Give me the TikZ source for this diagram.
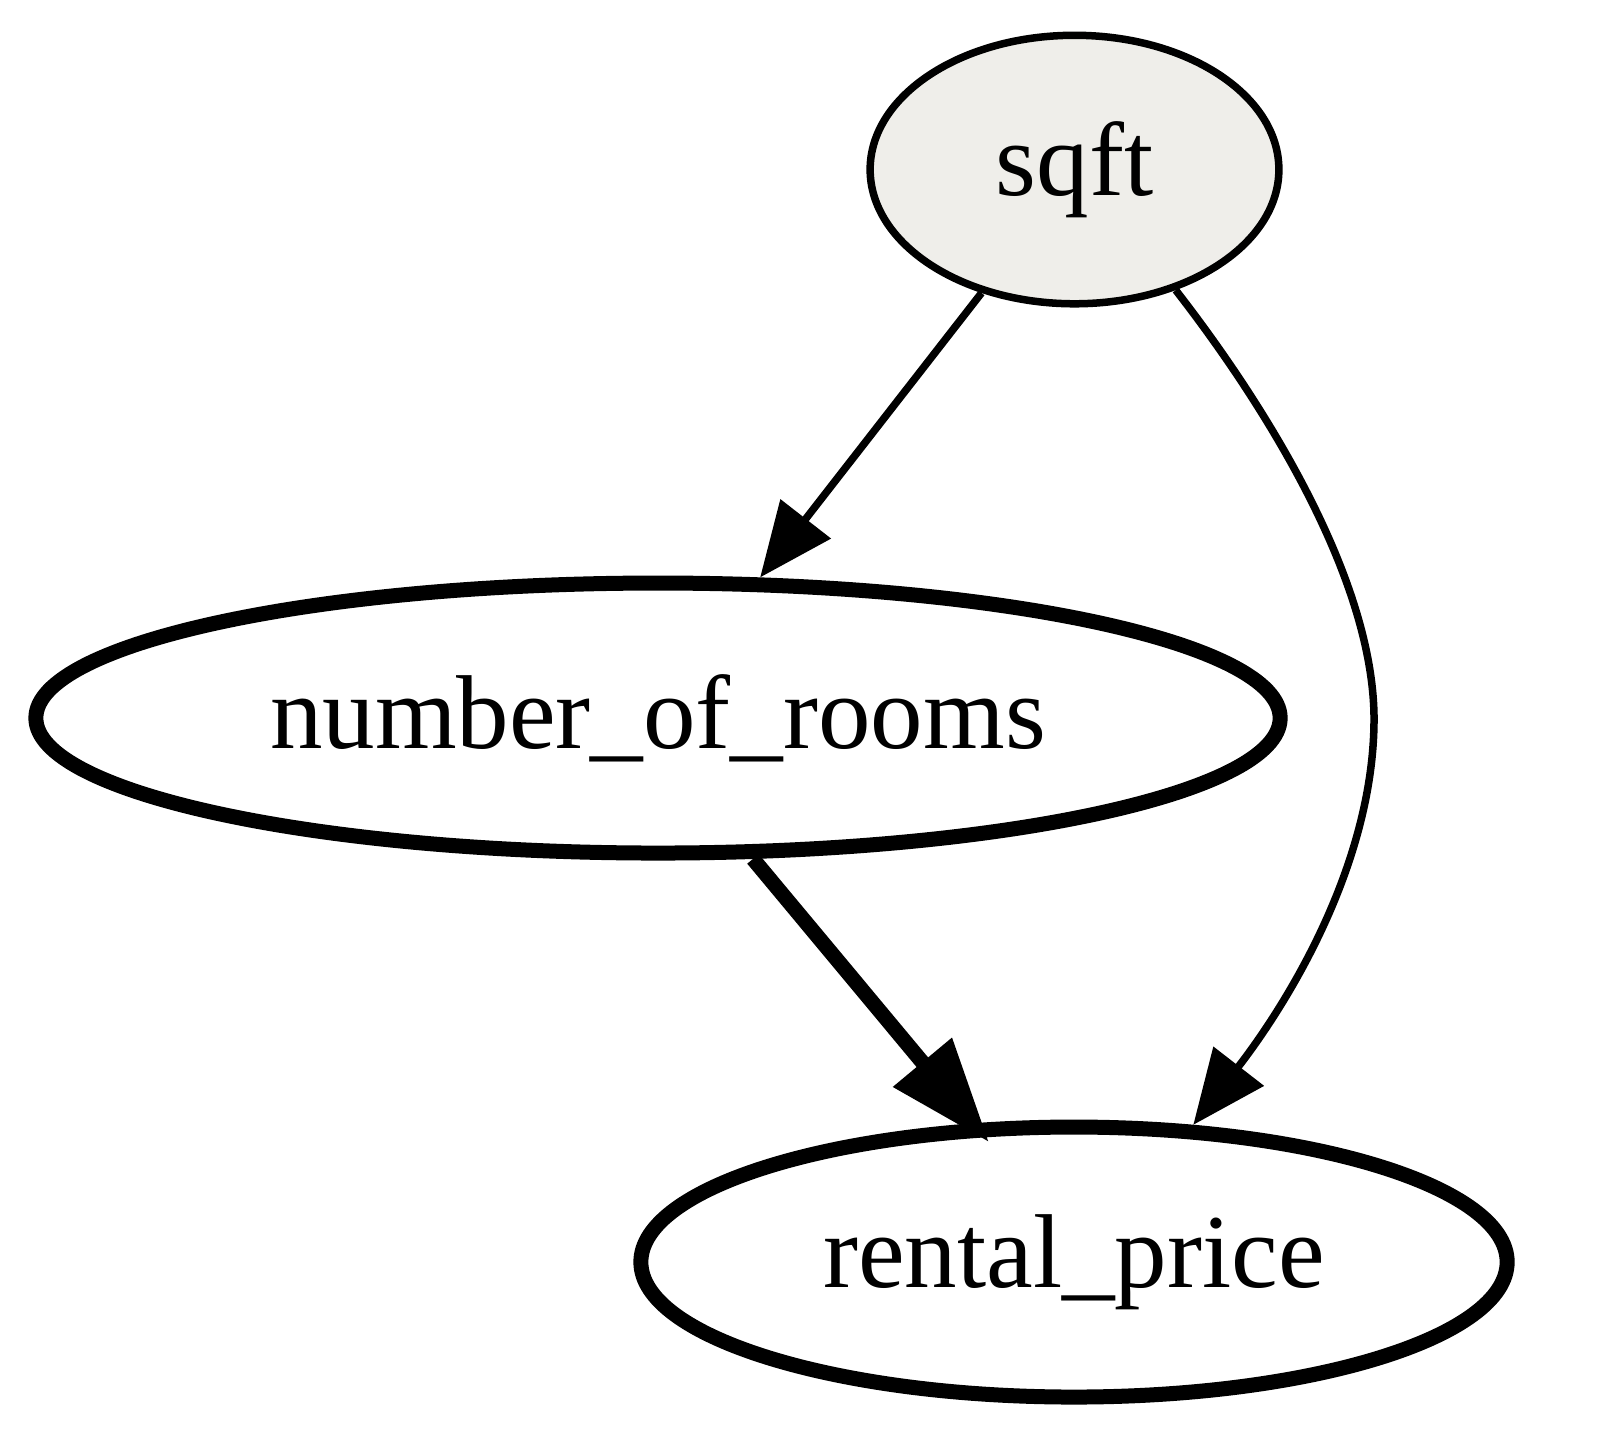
\documentclass[tikz,border=0pt]{standalone}
\usepackage{fontspec}
\setmainfont{Liberation Serif}
\usetikzlibrary{shapes.geometric,arrows.meta}
\definecolor{sqfill}{RGB}{239,238,234}
\begin{document}
\begin{tikzpicture}[x=0.13333pt,y=-0.13333pt,
  gnode/.style={ellipse,draw=black,inner sep=0pt,minimum height=36pt,
    font=\fontsize{14pt}{16pt}\selectfont},
  thinline/.style={line width=1pt},
  thickline/.style={line width=2pt},
  thinarrow/.style={-{Triangle[length=9.9pt,width=8.3pt]}},
  thickarrow/.style={-{Triangle[length=13.9pt,width=9.7pt]},shorten >=-3.3pt}]
\useasboundingbox (0,0) rectangle (1603,1435);
\node[gnode,thinline,fill=sqfill,minimum width=54.5pt,minimum height=35.8pt] (sqft) at (1074.5,169.5) {sqft};
\node[gnode,thickline,minimum width=165.9pt] (nor) at (658,718) {number\_of\_rooms};
\node[gnode,thickline,minimum width=115.5pt] (rp) at (1074,1262) {rental\_price};
\draw[thinline,thinarrow] (sqft.233) -- (nor.54);
\draw[thickline,thickarrow] (nor.304) -- (rp.126);
\coordinate (m) at (1374,716);
\draw[thinline,thinarrow] (sqft.310) .. controls (1255,392) and (1372,570) .. (m)
  .. controls (1375,860) and (1290,1000) .. (rp.49);
\end{tikzpicture}
\end{document}
